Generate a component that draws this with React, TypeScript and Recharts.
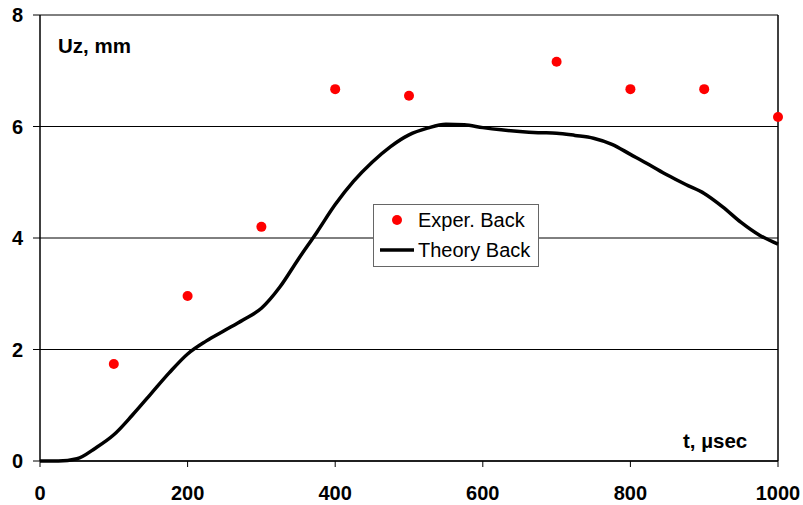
import {
  ComposedChart,
  Line,
  Scatter,
  XAxis,
  YAxis,
  CartesianGrid,
  ReferenceLine,
} from 'recharts'

// time, µs (theory curve samples)
const theoryT = [
  0, 25, 50, 75, 100, 125, 150, 175, 200, 225, 250, 275, 300, 325, 350, 375,
  400, 425, 450, 475, 500, 525, 550, 575, 600, 625, 650, 675, 700, 725, 750,
  775, 800, 825, 850, 875, 900, 925, 950, 975, 1000,
]
// Uz, mm (theory back)
const theoryUz = [
  0, 0, 0.04, 0.23, 0.47, 0.82, 1.2, 1.58, 1.92, 2.15, 2.34, 2.53, 2.74, 3.12,
  3.62, 4.1, 4.6, 5.02, 5.36, 5.64, 5.85, 5.97, 6.04, 6.03, 5.98, 5.94, 5.91,
  5.89, 5.88, 5.84, 5.79, 5.68, 5.5, 5.32, 5.13, 4.96, 4.8, 4.56, 4.28, 4.05,
  3.89,
]

// experiment back
const expT = [100, 200, 300, 400, 500, 700, 800, 900, 1000]
const expUz = [1.74, 2.96, 4.2, 6.67, 6.55, 7.16, 6.67, 6.67, 6.17]

const xTicks = [0, 200, 400, 600, 800, 1000]
const yTicks = [0, 2, 4, 6, 8]

const theory = theoryT.map((t, i) => ({ t, uz: theoryUz[i] }))
const exper = expT.map((t, i) => ({ t, uz: expUz[i] }))

const font = "'Liberation Sans', Arial, sans-serif"

function LegendBox() {
  return (
    <div
      style={{
        position: 'absolute',
        left: 373,
        top: 204,
        width: 164,
        height: 61,
        border: '1px solid #666',
        background: '#fff',
        fontFamily: font,
        fontSize: 20,
        color: '#000',
      }}
    >
      <div style={{ display: 'flex', alignItems: 'center', height: 30 }}>
        <svg width={44} height={20}>
          <circle cx={23} cy={10} r={5} fill="#ff0000" />
        </svg>
        <span>Exper. Back</span>
      </div>
      <div style={{ display: 'flex', alignItems: 'center', height: 30 }}>
        <svg width={44} height={20}>
          <line x1={6} x2={40} y1={10} y2={10} stroke="#000" strokeWidth={3.5} />
        </svg>
        <span>Theory Back</span>
      </div>
    </div>
  )
}

export default function App() {
  return (
    <div style={{ position: 'relative', width: 803, height: 505 }}>
      <style>{'body{margin:0}'}</style>
      <ComposedChart
        width={803}
        height={505}
        margin={{ top: 15, right: 25, left: 0, bottom: 0 }}
      >
        <CartesianGrid vertical={false} stroke="#000" strokeWidth={1} />
        <XAxis
          dataKey="t"
          type="number"
          domain={[0, 1000]}
          ticks={xTicks}
          height={44}
          tickSize={6}
          tickMargin={19}
          axisLine={{ stroke: '#000', strokeWidth: 1.5 }}
          tickLine={{ stroke: '#000' }}
          tick={{ fontSize: 20, fontWeight: 700, fill: '#000', fontFamily: font }}
        />
        <YAxis
          type="number"
          domain={[0, 8]}
          ticks={yTicks}
          width={40}
          tickSize={7}
          tickMargin={10}
          axisLine={{ stroke: '#000', strokeWidth: 1.5 }}
          tickLine={{ stroke: '#000' }}
          tick={{ fontSize: 20, fontWeight: 700, fill: '#000', fontFamily: font }}
        />
        <ReferenceLine x={1000} stroke="#000" strokeWidth={1.5} />
        <Line
          data={theory}
          dataKey="uz"
          type="monotone"
          stroke="#000"
          strokeWidth={3.5}
          dot={false}
          activeDot={false}
          isAnimationActive={false}
        />
        <Scatter
          data={exper}
          dataKey="uz"
          fill="#ff0000"
          shape={(p: any) => <circle cx={p.cx} cy={p.cy} r={5} fill="#ff0000" />}
          isAnimationActive={false}
        />
      </ComposedChart>
      <LegendBox />
      <svg
        width={803}
        height={505}
        style={{ position: 'absolute', left: 0, top: 0, pointerEvents: 'none' }}
      >
        <text x={58} y={53} fontFamily={font} fontSize={20.5} fontWeight={700}>
          Uz, mm
        </text>
        <text x={683} y={448} fontFamily={font} fontSize={20.5} fontWeight={700}>
          t, µsec
        </text>
      </svg>
    </div>
  )
}
